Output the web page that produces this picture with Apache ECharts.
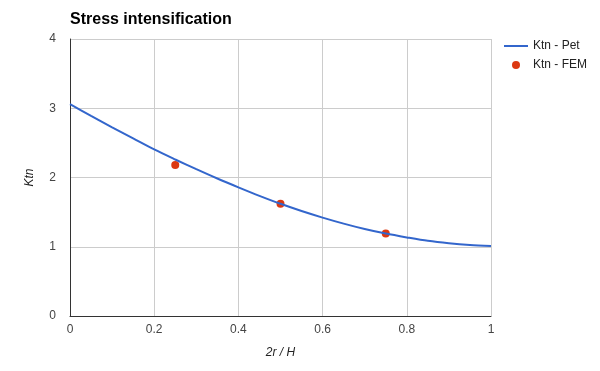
<!DOCTYPE html>
<html>
<head>
<meta charset="utf-8">
<script src="https://cdn.jsdelivr.net/npm/echarts@6/dist/echarts.min.js"></script>
<style>html,body{margin:0;padding:0;background:#fff}#c{width:600px;height:371px}</style>
</head>
<body>
<div id="c"></div>
<script>
var petX = [0, 0.05, 0.1, 0.15, 0.2, 0.25, 0.3, 0.35, 0.4, 0.45, 0.5, 0.55, 0.6, 0.65, 0.7, 0.75, 0.8, 0.85, 0.9, 0.95, 1];
var petY = [3.06, 2.89, 2.725, 2.565, 2.405, 2.26, 2.12, 1.985, 1.858, 1.735, 1.62, 1.516, 1.421, 1.334, 1.256, 1.19, 1.135, 1.085, 1.05, 1.025, 1.01];
var femX = [0.25, 0.5, 0.75];
var femY = [2.18, 1.62, 1.19];
var yTicks = [0, 1, 2, 3, 4];
var xTicks = [0, 0.2, 0.4, 0.6, 0.8, 1];

var font = 'Arial, "Liberation Sans", sans-serif';
var chart = echarts.init(document.getElementById('c'));
chart.setOption({
  animation: false,
  textStyle: {fontFamily: font},
  title: {
    text: 'Stress intensification', left: 70, top: 12, padding: 0,
    textStyle: {fontSize: 16, fontWeight: 'bold', color: '#000', fontFamily: font}
  },
  legend: [
    {
      orient: 'vertical', left: 504, top: 40, itemWidth: 24, itemHeight: 2, padding: 0,
      icon: 'rect',
      textStyle: {fontSize: 12, color: '#222', fontFamily: font},
      data: ['Ktn - Pet']
    },
    {
      orient: 'vertical', left: 512, top: 59, itemWidth: 24, itemHeight: 8, padding: 0,
      icon: 'circle',
      textStyle: {fontSize: 12, color: '#222', fontFamily: font},
      data: ['Ktn - FEM']
    }
  ],
  grid: {left: 70, right: 109, top: 39, bottom: 55, containLabel: false},
  xAxis: {
    type: 'value', min: xTicks[0], max: xTicks[xTicks.length - 1], interval: 0.2,
    name: '2r / H', nameLocation: 'middle', nameGap: 31,
    nameTextStyle: {fontStyle: 'italic', fontSize: 12, color: '#222', fontFamily: font},
    axisLine: {show: true, lineStyle: {color: '#333', width: 1}},
    axisTick: {show: false},
    axisLabel: {color: '#444', fontSize: 12, margin: 8, fontFamily: font},
    splitLine: {show: true, lineStyle: {color: '#ccc'}}
  },
  yAxis: {
    type: 'value', min: yTicks[0], max: yTicks[yTicks.length - 1], interval: 1,
    name: 'Ktn', nameLocation: 'middle', nameGap: 34,
    nameTextStyle: {fontStyle: 'italic', fontSize: 12, color: '#222', fontFamily: font},
    axisLine: {show: true, lineStyle: {color: '#333', width: 1}},
    axisTick: {show: false},
    axisLabel: {color: '#444', fontSize: 12, margin: 14, fontFamily: font},
    splitLine: {show: true, lineStyle: {color: '#ccc'}}
  },
  series: [
    {
      name: 'Ktn - Pet', type: 'line', smooth: 0.3, symbol: 'none',
      lineStyle: {color: '#3366cc', width: 2}, itemStyle: {color: '#3366cc'},
      data: petX.map(function (x, i) { return [x, petY[i]]; })
    },
    {
      name: 'Ktn - FEM', type: 'scatter', symbol: 'circle', symbolSize: 8,
      itemStyle: {color: '#dc3912', opacity: 1},
      data: femX.map(function (x, i) { return [x, femY[i]]; })
    }
  ]
});
</script>
</body>
</html>
